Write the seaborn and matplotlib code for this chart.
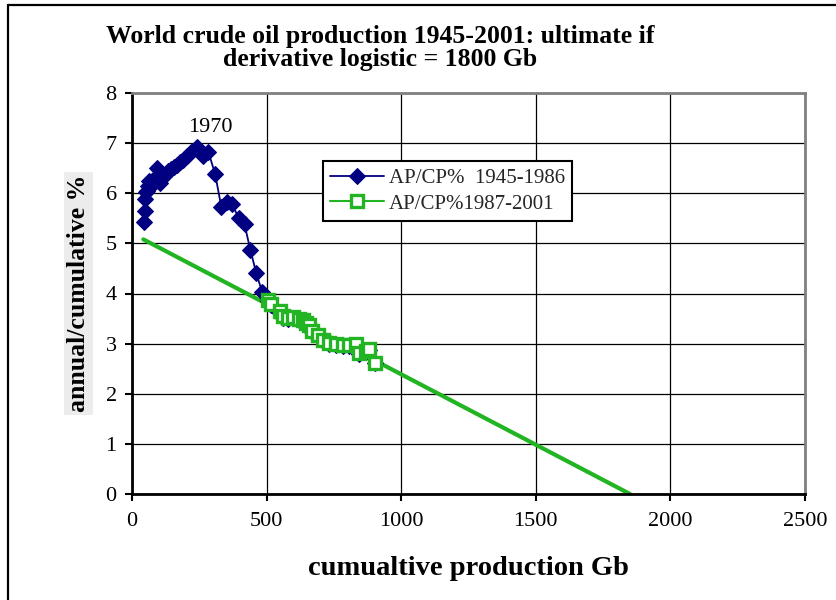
import matplotlib
matplotlib.use("Agg")
import matplotlib.pyplot as plt
import seaborn as sns
import pandas as pd
from matplotlib.lines import Line2D

# ---------------- data ----------------
blue_x = [44, 47, 50, 53.5, 57, 61, 65, 70, 75, 80, 85.5, 91.5, 98, 104.5, 111.5,
          119, 127, 135.5, 145, 155, 166, 178, 191, 205, 221, 240, 262, 284, 309,
          332, 352, 373, 396, 418, 440, 462, 484,
          505, 517, 548, 560, 579, 597, 622, 635, 647, 659, 669, 690, 709, 733,
          758, 783, 807, 832, 844, 869, 881, 904]
blue_y = [5.42, 5.65, 5.88, 6.02, 6.05, 6.15, 6.25, 6.2, 6.25, 6.2, 6.3, 6.5, 6.35, 6.2, 6.3,
          6.35, 6.38, 6.45, 6.48, 6.52, 6.57, 6.62, 6.67, 6.75, 6.82, 6.93, 6.75, 6.82, 6.38,
          5.72, 5.82, 5.78, 5.5, 5.38, 4.86, 4.40, 4.02,
          3.85, 3.78, 3.62, 3.52, 3.50, 3.52, 3.48, 3.46, 3.40, 3.36, 3.23, 3.16, 3.06, 3.00,
          2.97, 2.95, 2.95, 2.97, 2.80, 2.83, 2.87, 2.61]
green_x = [505, 517, 548, 560, 579, 597, 622, 635, 647, 659, 669, 690, 709, 733,
           758, 783, 807, 832, 844, 869, 881, 904]
green_y = [3.87, 3.80, 3.65, 3.55, 3.52, 3.54, 3.50, 3.48, 3.42, 3.38, 3.25, 3.18, 3.08, 3.02,
           2.99, 2.97, 2.97, 2.99, 2.82, 2.85, 2.89, 2.61]
trend_x = [42, 1850]
trend_y = [5.08, 0.0]
peak_label = "1970"
peak_x, peak_y = 240, 6.93
x_ticks = [0, 500, 1000, 1500, 2000, 2500]
y_ticks = [0, 1, 2, 3, 4, 5, 6, 7, 8]
title = "World crude oil production 1945-2001: ultimate if\nderivative logistic = 1800 Gb"
xlabel = "cumualtive production Gb"
ylabel = "annual/cumulative %"
label_blue = "AP/CP%  1945-1986"
label_green = "AP/CP%1987-2001"

# ---------------- style ----------------
sns.set_theme(style="white")
plt.rcParams["font.family"] = ["Liberation Serif", "DejaVu Serif"]

NAVY = "#000080"
GREEN = "#22b422"

fig = plt.figure(figsize=(8.36, 6.0), dpi=100)
ax = fig.add_axes([132 / 836, 106 / 600, 673 / 836, 401 / 600])

df_blue = pd.DataFrame({"x": blue_x, "y": blue_y})
df_green = pd.DataFrame({"x": green_x, "y": green_y})
df_trend = pd.DataFrame({"x": trend_x, "y": trend_y})

sns.lineplot(data=df_trend, x="x", y="y", ax=ax, color=GREEN, lw=3.0,
             sort=False, estimator=None, legend=False, zorder=2)
sns.lineplot(data=df_blue, x="x", y="y", ax=ax, color=NAVY, lw=1.3,
             marker="D", markersize=8.5, markeredgecolor=NAVY, markerfacecolor=NAVY,
             sort=False, estimator=None, label=label_blue, zorder=3)
sns.lineplot(data=df_green, x="x", y="y", ax=ax, color=GREEN, lw=1.5,
             marker="s", markersize=8, markeredgecolor=GREEN, markerfacecolor="white",
             markeredgewidth=2.4, sort=False, estimator=None, label=label_green, zorder=4)

ax.annotate(peak_label, xy=(peak_x, peak_y), xytext=(10, 14), textcoords="offset points",
            ha="center", va="center", fontsize=16, color="black")

ax.set_xlim(0, 2500)
ax.set_ylim(0, 8)
ax.set_xticks(x_ticks)
ax.set_yticks(y_ticks)
ax.grid(True, color="black", lw=0.9)
ax.set_axisbelow(True)
ax.tick_params(axis="both", which="major", labelsize=16, direction="out", length=5,
               width=1.5, color="black", labelcolor="black", bottom=True, left=True)
ax.tick_params(axis="x", pad=8)
ax.tick_params(axis="y", pad=6)
for s in ["left", "bottom"]:
    ax.spines[s].set_color("black")
    ax.spines[s].set_linewidth(2.0)
for s in ["top", "right"]:
    ax.spines[s].set_color("#808080")
    ax.spines[s].set_linewidth(2.0)

ax.set_xlabel(xlabel, fontsize=20.5, fontweight="bold", color="black")
ax.xaxis.set_label_coords(0.5, -0.155)
ax.set_ylabel(ylabel, fontsize=18.5, fontweight="bold", color="black",
              bbox=dict(facecolor="#ececec", edgecolor="none", pad=2))
ax.yaxis.set_label_coords(-0.062, 0.5)

leg = ax.legend(loc="upper left", bbox_to_anchor=((323 - 132) / 673, (494 - 161) / 401),
                fontsize=15, frameon=True, fancybox=False, edgecolor="black",
                framealpha=1, borderpad=0.35, handlelength=2.6, handletextpad=0.2,
                labelspacing=0.3, borderaxespad=0)
leg.get_frame().set_linewidth(1.5)

fig.text(380 / 836, 1 - 48 / 600, title, ha="center", va="center", fontsize=18.5,
         fontweight="bold", linespacing=0.98, color="black")

fig.add_artist(Line2D([8 / 836, 8 / 836], [0, 1 - 5 / 600], transform=fig.transFigure,
                      color="black", lw=1.6))
fig.add_artist(Line2D([8 / 836, 1], [1 - 5 / 600, 1 - 5 / 600], transform=fig.transFigure,
                      color="black", lw=1.6))

fig.savefig("out.png", dpi=100, facecolor="white")
